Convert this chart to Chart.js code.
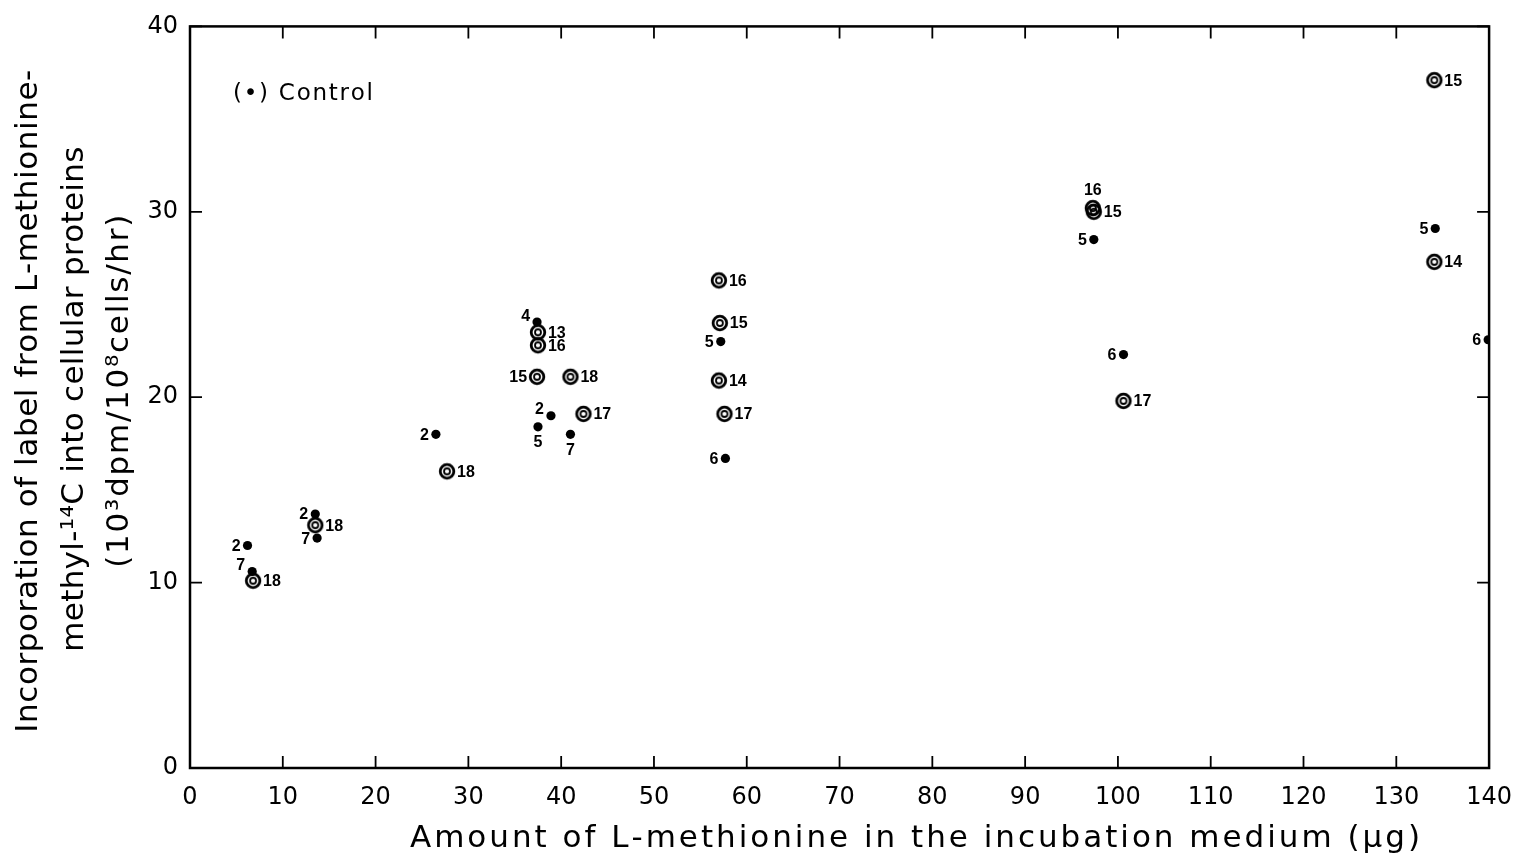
<!DOCTYPE html>
<html>
<head>
<meta charset="utf-8">
<script src="https://cdn.jsdelivr.net/npm/chart.js@4"></script>
<style>
  html, body { margin: 0; padding: 0; background: #fff; }
  #wrap { width: 1527px; height: 859px; }
</style>
</head>
<body>
<div id="wrap"><canvas id="grafico"></canvas></div>
<script>
// --- DATOS ---
const xTicks = [0, 10, 20, 30, 40, 50, 60, 70, 80, 90, 100, 110, 120, 130, 140];
const yTicks = [0, 10, 20, 30, 40];

// control (filled dots)
const controlX   = [6.2, 6.7, 13.5, 13.7, 26.5, 37.4, 38.9, 37.5, 41.0, 57.2, 57.7, 97.4, 100.6, 134.2, 139.9];
const controlY   = [12.0, 10.6, 13.7, 12.4, 18.0, 24.05, 19.0, 18.4, 18.0, 23.0, 16.7, 28.5, 22.3, 29.1, 23.1];
const controlNum = ['2', '7', '2', '7', '2', '4', '2', '5', '7', '5', '6', '5', '6', '5', '6'];
const controlPos = ['left', 'upleft', 'left', 'left', 'left', 'upleft', 'upleft', 'below', 'below', 'left', 'left', 'left', 'left', 'left', 'left'];

// treated (double circles)
const treatX   = [6.8, 13.5, 27.7, 37.5, 37.5, 37.4, 41.0, 42.4, 57.0, 57.1, 57.0, 57.6, 97.3, 97.4, 100.6, 134.1, 134.1];
const treatY   = [10.1, 13.1, 16.0, 23.5, 22.8, 21.1, 21.1, 19.1, 26.3, 24.0, 20.9, 19.1, 30.2, 30.0, 19.8, 37.1, 27.3];
const treatNum = ['18', '18', '18', '13', '16', '15', '18', '17', '16', '15', '14', '17', '16', '15', '17', '15', '14'];
const treatPos = ['right', 'right', 'right', 'right', 'right', 'left', 'right', 'right', 'right', 'right', 'right', 'right', 'above', 'right', 'right', 'right', 'right'];

const legendText = '(\u2022) Control';
const xTitle = 'Amount of L-methionine in the incubation medium (\u03bcg)';
const yTitle = ['Incorporation of label from L-methionine-',
                'methyl-\u00b9\u2074C into cellular proteins',
                '(10\u00b3dpm/10\u2078cells/hr)'];

// --- ESTILO ---
const FONT = '"DejaVu Sans", "Liberation Sans", sans-serif';
const NUM_FONT = 'bold 16px "Liberation Sans", Arial, sans-serif';

// double ring marker
function anillo() {
    const c = document.createElement('canvas');
    c.width = 20; c.height = 20;
    const g = c.getContext('2d');
    g.strokeStyle = '#000';
    g.lineWidth = 2.8;
    g.beginPath(); g.arc(10, 10, 6.8, 0, Math.PI * 2); g.stroke();
    g.lineWidth = 1.8;
    g.beginPath(); g.arc(10, 10, 3.0, 0, Math.PI * 2); g.stroke();
    return c;
}

const toPts = (xs, ys) => xs.map((x, i) => ({ x: x, y: ys[i] }));

// text spread out to a given width, centred on cx (letters are wide in the original)
function textoAncho(ctx, text, cx, y, ancho) {
    const w = [...text].map(ch => ctx.measureText(ch).width);
    const total = w.reduce((s, v) => s + v, 0);
    const gap = (ancho - total) / (w.length - 1);
    let x = cx - ancho / 2;
    ctx.textAlign = 'left';
    [...text].forEach((ch, i) => {
        ctx.fillText(ch, x, y);
        x += w[i] + gap;
    });
}

// frame, inward ticks, point numbers, titles and legend text
const marco = {
    id: 'marco',
    afterDatasetsDraw(chart) {
        const { ctx, chartArea: a, scales } = chart;
        const tl = 12;
        ctx.save();
        ctx.strokeStyle = '#000';
        ctx.lineWidth = 2.5;
        ctx.strokeRect(a.left, a.top, a.right - a.left, a.bottom - a.top);
        ctx.lineWidth = 1.8;
        ctx.beginPath();
        xTicks.forEach(v => {
            const px = scales.x.getPixelForValue(v);
            ctx.moveTo(px, a.bottom); ctx.lineTo(px, a.bottom - tl);
            ctx.moveTo(px, a.top); ctx.lineTo(px, a.top + tl);
        });
        yTicks.forEach(v => {
            const py = scales.y.getPixelForValue(v);
            ctx.moveTo(a.left, py); ctx.lineTo(a.left + tl, py);
            ctx.moveTo(a.right, py); ctx.lineTo(a.right - tl, py);
        });
        ctx.stroke();

        // numbers beside points
        ctx.fillStyle = '#000';
        ctx.font = NUM_FONT;
        const etiquetar = (dsIndex, nums, pos, gap) => {
            chart.getDatasetMeta(dsIndex).data.forEach((el, i) => {
                const p = pos[i];
                let x = el.x, y = el.y;
                if (p === 'left') { ctx.textAlign = 'right'; ctx.textBaseline = 'middle'; x -= gap; }
                else if (p === 'right') { ctx.textAlign = 'left'; ctx.textBaseline = 'middle'; x += gap; }
                else if (p === 'above') { ctx.textAlign = 'center'; ctx.textBaseline = 'bottom'; y -= gap; }
                else if (p === 'below') { ctx.textAlign = 'center'; ctx.textBaseline = 'top'; y += gap; }
                else if (p === 'upleft') { ctx.textAlign = 'right'; ctx.textBaseline = 'middle'; x -= gap; y -= 7; }
                ctx.fillText(nums[i], x, y + 1);
            });
        };
        etiquetar(0, controlNum, controlPos, 7);
        etiquetar(1, treatNum, treatPos, 10);

        // legend note
        ctx.font = '23px ' + FONT;
        ctx.textBaseline = 'middle';
        textoAncho(ctx, legendText, a.left + 113, a.top + 68, 140);

        // x title
        ctx.font = '31px ' + FONT;
        ctx.textBaseline = 'alphabetic';
        textoAncho(ctx, xTitle, 915, a.bottom + 79, 1010);

        // y title, three rotated lines
        const midY = (a.top + a.bottom) / 2;
        const lineas = [{ x: 37, c: midY + 4, w: 663 }, { x: 83, c: midY + 2, w: 505 }, { x: 128, c: midY - 6, w: 353 }];
        lineas.forEach((l, i) => {
            ctx.save();
            ctx.translate(l.x, l.c);
            ctx.rotate(-Math.PI / 2);
            textoAncho(ctx, yTitle[i], 0, 0, l.w);
            ctx.restore();
        });
        ctx.restore();
    }
};

const ctx = document.getElementById('grafico').getContext('2d');
new Chart(ctx, {
    type: 'scatter',
    data: {
        datasets: [
            {
                label: 'Control',
                data: toPts(controlX, controlY),
                pointStyle: 'circle',
                pointRadius: 4.6,
                backgroundColor: '#000',
                borderColor: '#000',
                borderWidth: 0
            },
            {
                label: 'Treated',
                data: toPts(treatX, treatY),
                pointStyle: anillo(),
                pointRadius: 10
            }
        ]
    },
    options: {
        responsive: true,
        maintainAspectRatio: false,
        animation: false,
        layout: { padding: { top: 18, right: 32, left: 12, bottom: 0 } },
        plugins: {
            legend: { display: false },
            tooltip: { enabled: false }
        },
        scales: {
            x: {
                type: 'linear',
                min: 0, max: 140,
                afterBuildTicks: s => { s.ticks = xTicks.map(v => ({ value: v })); },
                afterFit: s => { s.height = 91; },
                grid: { display: false, drawTicks: false },
                border: { display: false },
                ticks: { color: '#000', padding: 15, font: { family: FONT, size: 24 } }
            },
            y: {
                type: 'linear',
                min: 0, max: 40,
                afterBuildTicks: s => { s.ticks = yTicks.map(v => ({ value: v })); },
                afterFit: s => { s.width = 178; },
                grid: { display: false, drawTicks: false },
                border: { display: false },
                ticks: { color: '#000', padding: 12, font: { family: FONT, size: 24 } }
            }
        }
    },
    plugins: [marco]
});
</script>
</body>
</html>
